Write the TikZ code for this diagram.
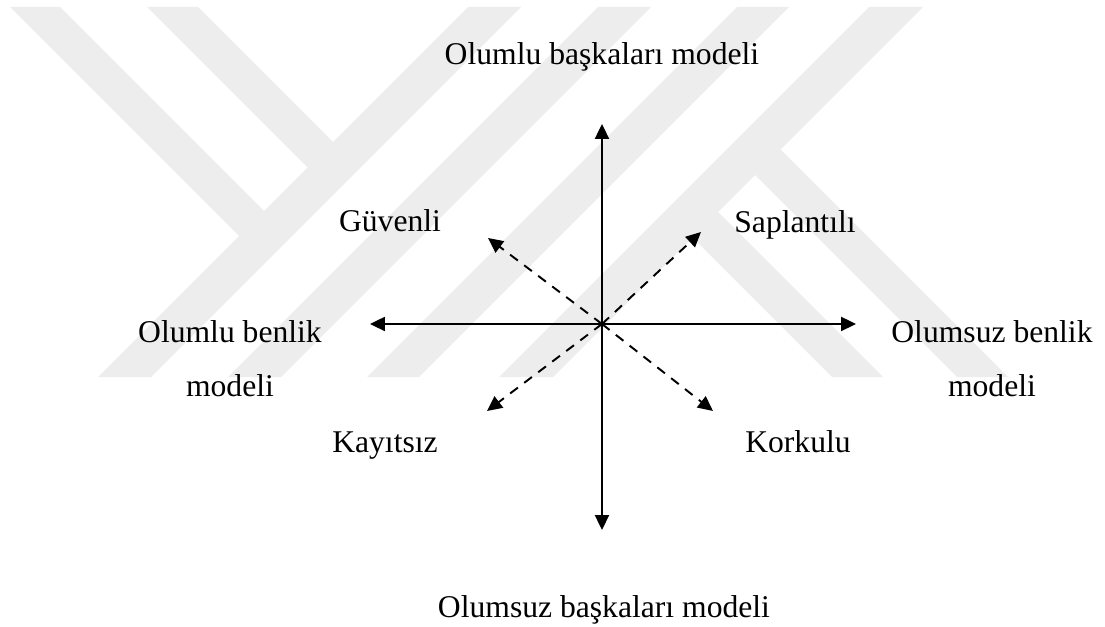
\documentclass[tikz,border=0pt]{standalone}
\usepackage{fontspec}
\setmainfont{Liberation Serif}
\usetikzlibrary{arrows.meta}

\begin{document}
\begin{tikzpicture}[
    axis/.style={draw, line width=1.1pt, -{Triangle[length=8.5pt, width=8pt]}},
    diag/.style={axis, dash pattern=on 5.5pt off 4.5pt},
    lbl/.style={font=\fontsize{18}{31}\selectfont, inner sep=0pt, anchor=base, align=center},
    wm/.style={fill=black!7, draw=none}
]

\useasboundingbox (-12.04,-6.06) rectangle (10.06,6.48);

% ===== Watermark =====
\begin{scope}[shift={(-12.04,6.48)}, x=0.02cm, y=-0.02cm]
    \fill[wm] (468,7) -- (521,7) -- (151,377) -- (98,377) -- cycle;
    \fill[wm] (598,7) -- (651,7) -- (281,377) -- (228,377) -- cycle;
    \fill[wm] (737,7) -- (789,7) -- (419,377) -- (367,377) -- cycle;
    \fill[wm] (869,7) -- (923,7) -- (553,377) -- (499,377) -- cycle;
    \fill[wm] (10,7) -- (60,7) -- (276.5,223.5) -- (251.5,248.5) -- cycle;
    \fill[wm] (147,7) -- (198,7) -- (345.5,154.5) -- (320,180) -- cycle;
    \fill[wm] (680,225) -- (705.5,199.5) -- (883,377) -- (832,377) -- cycle;
    \fill[wm] (742.5,162.5) -- (768,137) -- (1008,377) -- (957,377) -- cycle;
\end{scope}

% ===== Axes =====
\coordinate (o) at (0,0);
\coordinate (o-up) at (0,4.0);
\coordinate (o-down) at (0,-4.12);
\coordinate (o-left) at (-4.64,0);
\coordinate (o-right) at (5.08,0);

\draw[axis] (o) -- (o-up);
\draw[axis] (o) -- (o-down);
\draw[axis] (o) -- (o-left);
\draw[axis] (o) -- (o-right);

% ===== Diagonals =====
\coordinate (o-nw) at (-2.28,1.72);
\coordinate (o-ne) at (1.98,1.84);
\coordinate (o-sw) at (-2.30,-1.74);
\coordinate (o-se) at (2.22,-1.74);

\draw[diag] (o) -- (o-nw);
\draw[diag] (o) -- (o-ne);
\draw[diag] (o) -- (o-sw);
\draw[diag] (o) -- (o-se);

% ===== Labels =====
\node[lbl] (pos-other) at (0,5.18) {Olumlu başkaları modeli};
\node[lbl] (neg-other) at (0.04,-5.88) {Olumsuz başkaları modeli};
\node[lbl] (pos-self) at (-7.44,-1.46) {Olumlu benlik\\modeli};
\node[lbl] (neg-self) at (7.8,-1.46) {Olumsuz benlik\\modeli};
\node[lbl] (secure) at (-4.24,1.84) {Güvenli};
\node[lbl] (preocc) at (3.86,1.82) {Saplantılı};
\node[lbl] (dismiss) at (-4.34,-2.58) {Kayıtsız};
\node[lbl] (fearful) at (3.92,-2.58) {Korkulu};

\end{tikzpicture}
\end{document}
